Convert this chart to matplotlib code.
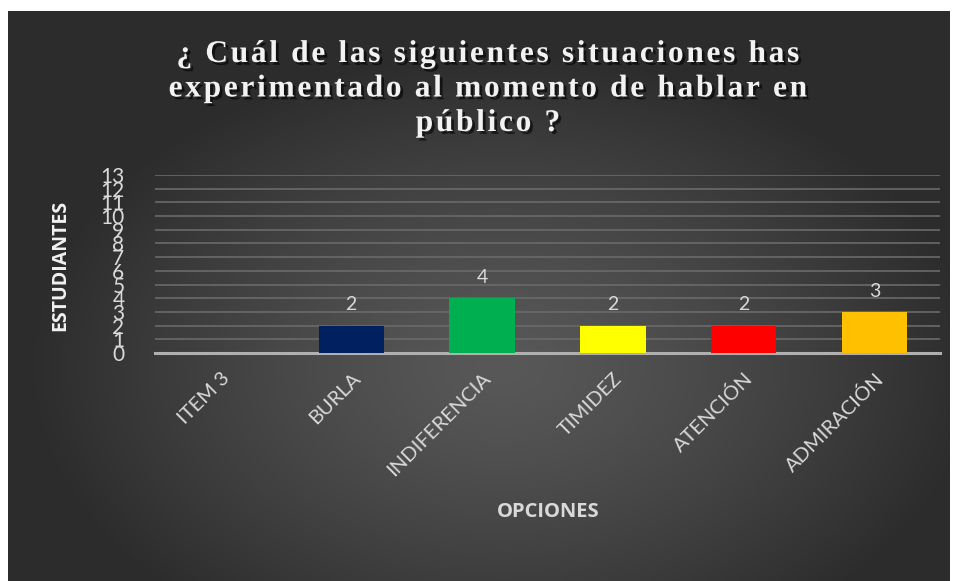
import matplotlib.pyplot as plt
import matplotlib.patheffects as pe
import numpy as np

categorias = ["ITEM 3", "BURLA", "INDIFERENCIA", "TIMIDEZ", "ATENCIÓN", "ADMIRACIÓN"]
estudiantes = [0, 2, 4, 2, 2, 3]
colores = ["#7f7f7f", "#002060", "#00B050", "#FFFF00", "#FF0000", "#FFC000"]
yticks = list(range(0, 14))

W, H = 957, 581
fig = plt.figure(figsize=(W / 100, H / 100), dpi=100)
fig.patch.set_facecolor("white")

# fondo con degradado radial
bg = fig.add_axes([8 / W, 0, (950 - 8) / W, (H - 11) / H])
bg.set_axis_off()
gx, gy = np.meshgrid(np.linspace(-1, 1, 400), np.linspace(-1, 1, 300))
r = np.sqrt(((gx - 0.05) / 1.0) ** 2 + ((gy + 0.25) / 1.1) ** 2)
r = np.clip(r, 0, 1)
c = 0.345 - 0.17 * r ** 1.3
img = np.dstack([c, c, c])
bg.imshow(img, aspect="auto", extent=[0, 1, 0, 1], origin="lower")
bg.set_xlim(0, 1)
bg.set_ylim(0, 1)

ax = fig.add_axes([155 / W, 1 - 353 / H, (940 - 155) / W, (353 - 175) / H])
ax.patch.set_alpha(0)
x = np.arange(len(categorias))
bars = ax.bar(x, estudiantes, width=0.5, color=colores, zorder=3)
for xi, v in zip(x, estudiantes):
    if v > 0:
        ax.text(xi, v + 0.9, str(v), ha="center", va="bottom", color="#d9d9d9",
                fontsize=14, family="Lato")

ax.set_xlim(-0.5, len(categorias) - 0.5)
ax.set_ylim(0, 13)
ax.set_yticks(yticks)
ax.set_yticklabels([str(t) for t in yticks], family="Lato", fontsize=15, color="#d9d9d9")
ax.yaxis.grid(True, color="#6a6a6a", linewidth=1.2, zorder=0)
ax.tick_params(axis="y", length=0, pad=22)
ax.tick_params(axis="x", length=0, pad=12)
for s in ["top", "right", "left"]:
    ax.spines[s].set_visible(False)
ax.spines["bottom"].set_color("#b0b0b0")
ax.spines["bottom"].set_linewidth(2.2)
ax.set_xticks(x)
ax.set_xticklabels(categorias, rotation=45, ha="right", va="top", rotation_mode="anchor",
                   family="Lato", fontsize=14.5, color="#d9d9d9")

fig.text(60 / W, 1 - 265 / H, "ESTUDIANTES", rotation=90, ha="center", va="center",
         fontsize=14, fontweight="bold", family="Open Sans", color="#f2f2f2")
fig.text(548 / W, 1 - 512 / H, "OPCIONES", ha="center", va="center",
         fontsize=14.5, fontweight="bold", family="Open Sans", color="#d9d9d9")

lineas = ["¿ Cuál de las siguientes situaciones has",
          "experimentado al momento de hablar en",
          "público ?"]
# espaciado entre letras con espacios finos
titulo = "\n".join("\u200a".join(l) for l in lineas)
fig.text(488 / W, 1 - 89 / H, titulo, ha="center", va="center", fontsize=22.7,
         fontweight="bold", family=["Liberation Serif", "DejaVu Serif"], color="#f2f2f2",
         linespacing=1.25,
         path_effects=[pe.withSimplePatchShadow(offset=(2, -2), shadow_rgbFace="black", alpha=0.6)])

fig.savefig("out.png", dpi=100)
